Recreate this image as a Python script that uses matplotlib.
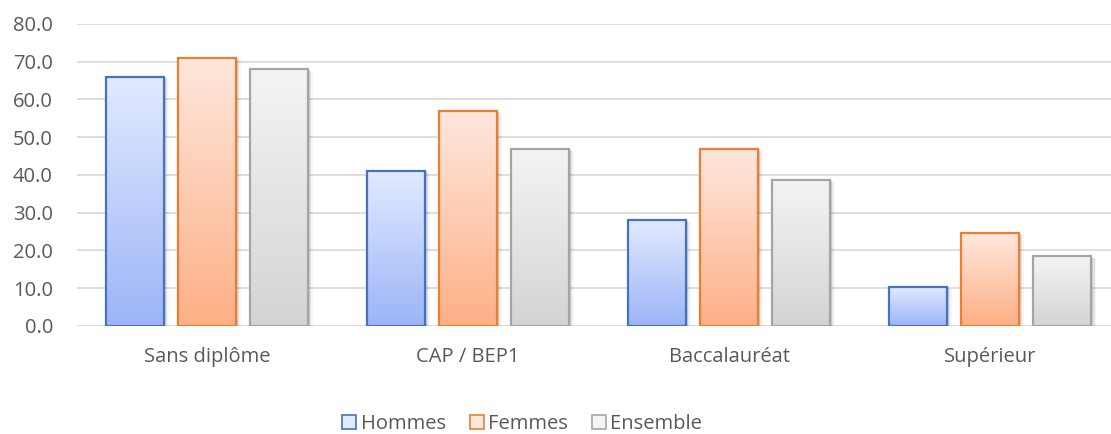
import numpy as np
import matplotlib.pyplot as plt
from matplotlib.colors import LinearSegmentedColormap
from matplotlib.patches import Patch, Rectangle

categories = ['Sans diplôme', 'CAP / BEP1', 'Baccalauréat', 'Supérieur']
hommes = [66.0, 41.1, 28.1, 10.4]
femmes = [71.0, 56.9, 46.8, 24.5]
ensemble = [68.0, 46.9, 38.7, 18.4]
series_names = ['Hommes', 'Femmes', 'Ensemble']
yticks = [0, 10, 20, 30, 40, 50, 60, 70, 80]

plt.rcParams['font.family'] = ['Open Sans', 'DejaVu Sans']
txt = '#595959'

# (top colour, bottom colour, edge colour)
styles = [('#e2eaff', '#9cb5f7', '#4472c4'),
          ('#ffe7dd', '#fdb086', '#ed7d31'),
          ('#f4f4f4', '#d4d4d4', '#a5a5a5')]

fig = plt.figure(figsize=(11.11, 4.34), dpi=100)
ax = fig.add_axes([0.0689, 0.249, 0.940, 0.696])

x = np.arange(len(categories))
width = 0.222
offsets = [-0.276, 0, 0.276]
grad = np.linspace(1, 0, 100).reshape(-1, 1)

for vals, off, (top, bot, edge) in zip([hommes, femmes, ensemble], offsets, styles):
    cmap = LinearSegmentedColormap.from_list('g', [bot, top])
    for xi, v in zip(x, vals):
        x0 = xi + off - width / 2
        # soft shadow
        for k, a in enumerate([0.10, 0.07, 0.04]):
            d = 0.006 * (k + 1)
            ax.add_patch(Rectangle((x0 + d, 0), width, v - d * 30, facecolor='#000000',
                                   alpha=a, edgecolor='none', zorder=2))
        ax.imshow(grad, extent=[x0, x0 + width, 0, v], aspect='auto', cmap=cmap,
                  vmin=0, vmax=1, zorder=3)
    ax.bar(x + off, vals, width, facecolor='none', edgecolor=edge, linewidth=1.6, zorder=4)

ax.set_xlim(-0.5, 3.5)
ax.set_ylim(0, 80)
ax.set_yticks(yticks)
ax.set_yticklabels([f'{t:.1f}' for t in yticks])
ax.set_xticks(x)
ax.set_xticklabels(categories)
ax.yaxis.grid(True, color='#d9d9d9', linewidth=1.2, zorder=0)
ax.set_axisbelow(True)
for s in ax.spines.values():
    s.set_visible(False)
ax.tick_params(axis='both', length=0, labelsize=14.5, colors=txt)
ax.tick_params(axis='x', pad=15)
ax.tick_params(axis='y', pad=17)

handles = [Patch(facecolor=s[0], edgecolor=s[2], linewidth=1.2) for s in styles]
fig.legend(handles, series_names, loc='center', bbox_to_anchor=(0.47, 0.022), ncol=3,
           frameon=False, fontsize=14.5, labelcolor=txt, handlelength=0.7,
           handleheight=0.7, handletextpad=0.2, columnspacing=1.2)

fig.savefig('out.png', dpi=100)
